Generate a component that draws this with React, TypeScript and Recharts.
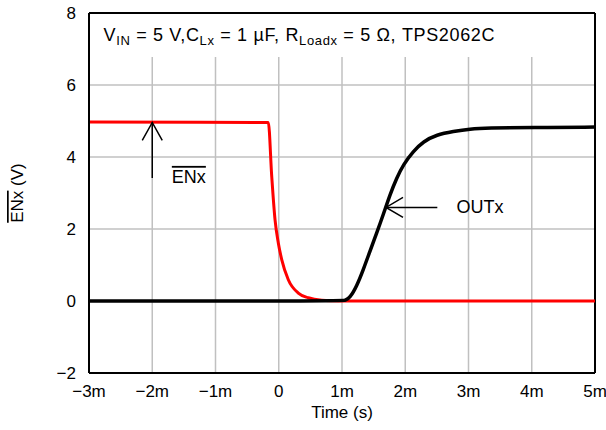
import React from 'react';
import {
  LineChart,
  Line,
  XAxis,
  YAxis,
  CartesianGrid,
  ReferenceArea,
  ReferenceLine,
  ReferenceDot,
} from 'recharts';

// time in ms, voltage in V
const enxTime = [-3, -0.165, -0.111, -0.059, -0.007, 0.047, 0.151, 0.309, 0.467, 0.679, 0.95, 5];
const enxVolts = [4.97, 4.96, 3.46, 2.26, 1.61, 1.15, 0.59, 0.22, 0.09, 0.02, 0, 0];

const outTime = [
  -3, 1.0, 1.047, 1.126, 1.232, 1.337, 1.443, 1.549, 1.653, 1.759, 1.865, 1.969, 2.127, 2.285,
  2.497, 2.76, 3.024, 3.288, 4, 5,
];
const outVolts = [
  0, 0, 0.01, 0.09, 0.41, 0.87, 1.39, 1.89, 2.4, 2.96, 3.42, 3.79, 4.16, 4.43, 4.62, 4.71, 4.78,
  4.81, 4.82, 4.83,
];

const xTicks = [-3, -2, -1, 0, 1, 2, 3, 4, 5];
const xTickLabels = ['−3m', '−2m', '−1m', '0', '1m', '2m', '3m', '4m', '5m'];
const yTicks = [-2, 0, 2, 4, 6, 8];
const yTickLabels = ['−2', '0', '2', '4', '6', '8'];

const enxData = enxTime.map((t, i) => ({ t, v: enxVolts[i] }));
const outData = outTime.map((t, i) => ({ t, v: outVolts[i] }));

const FONT = '"Liberation Sans", Arial, sans-serif';

const upArrow = (props: any) => (
  <path
    d={`M${props.cx - 10},${props.cy + 18} L${props.cx},${props.cy} L${props.cx + 10},${props.cy + 18}`}
    fill="none"
    stroke="#000"
    strokeWidth={1.5}
  />
);

const leftArrow = (props: any) => (
  <path
    d={`M${props.cx + 17},${props.cy - 10} L${props.cx},${props.cy} L${props.cx + 17},${props.cy + 10}`}
    fill="none"
    stroke="#000"
    strokeWidth={1.5}
  />
);

const textAt = (content: React.ReactNode, spacing = 0) => (props: any) => (
  <text
    x={props.cx}
    y={props.cy}
    fontSize={18}
    fontFamily={FONT}
    fill="#000"
    textAnchor="start"
    letterSpacing={spacing}
  >
    {content}
  </text>
);

const titleText = (
  <>
    <tspan>V</tspan>
    <tspan fontSize={13} dy={4}>IN</tspan>
    <tspan dy={-4}> = 5 V,C</tspan>
    <tspan fontSize={13} dy={4}>Lx</tspan>
    <tspan dy={-4}> = 1 µF, R</tspan>
    <tspan fontSize={13} dy={4}>Loadx</tspan>
    <tspan dy={-4}> = 5 Ω, TPS2062C</tspan>
  </>
);

export default function App() {
  return (
    <div style={{ position: 'absolute', left: 0, top: 0 }}>
      <LineChart
        width={606}
        height={430}
        margin={{ top: 13, right: 11, bottom: 0, left: 0 }}
        style={{ fontFamily: FONT }}
      >
        <CartesianGrid stroke="#c0c0c0" strokeWidth={1.5} />
        <XAxis
          type="number"
          dataKey="t"
          domain={[-3, 5]}
          ticks={xTicks}
          tickFormatter={(v: number) => xTickLabels[xTicks.indexOf(v)]}
          height={57}
          tickSize={0}
          tickMargin={12}
          axisLine={{ stroke: '#000', strokeWidth: 2 }}
          tick={{ fill: '#000', fontSize: 17, fontFamily: FONT }}
          allowDataOverflow
          label={{
            content: (p: any) => (
              <text
                x={p.viewBox.x + p.viewBox.width / 2}
                y={p.viewBox.y + 45}
                textAnchor="middle"
                fontSize={17}
                fontFamily={FONT}
                fill="#000"
              >
                Time (s)
              </text>
            ),
          }}
        />
        <YAxis
          type="number"
          domain={[-2, 8]}
          ticks={yTicks}
          tickFormatter={(v: number) => yTickLabels[yTicks.indexOf(v)]}
          width={89}
          tickSize={0}
          tickMargin={13}
          axisLine={{ stroke: '#000', strokeWidth: 2 }}
          tick={{ fill: '#000', fontSize: 17, fontFamily: FONT }}
          allowDataOverflow
          label={{
            content: (p: any) => {
              const cx = 23;
              const cy = p.viewBox.y + p.viewBox.height / 2;
              return (
                <text
                  x={cx}
                  y={cy}
                  transform={`rotate(-90 ${cx} ${cy})`}
                  textAnchor="middle"
                  fontSize={17}
                  fontFamily={FONT}
                  fill="#000"
                >
                  <tspan style={{ textDecoration: 'overline' }}>ENx</tspan>
                  <tspan> (V)</tspan>
                </text>
              );
            },
          }}
        />
        <ReferenceArea x1={-3} x2={5} y1={6.78} y2={8} fill="#fff" fillOpacity={1} stroke="none" />
        <ReferenceLine y={8} stroke="#000" strokeWidth={2} />
        <ReferenceLine x={5} stroke="#000" strokeWidth={2} />

        <Line
          data={enxData}
          dataKey="v"
          type="monotone"
          stroke="#ff0000"
          strokeWidth={3}
          dot={false}
          isAnimationActive={false}
        />
        <Line
          data={outData}
          dataKey="v"
          type="basis"
          stroke="#000"
          strokeWidth={3.5}
          dot={false}
          isAnimationActive={false}
        />

        <ReferenceLine
          segment={[
            { x: -2, y: 3.42 },
            { x: -2, y: 4.96 },
          ]}
          stroke="#000"
          strokeWidth={1.5}
        />
        <ReferenceDot x={-2} y={4.96} shape={upArrow} />
        <ReferenceLine
          segment={[
            { x: 1.696, y: 2.6 },
            { x: 2.507, y: 2.6 },
          ]}
          stroke="#000"
          strokeWidth={1.5}
        />
        <ReferenceDot x={1.696} y={2.6} shape={leftArrow} />
        <ReferenceDot
          x={-1.69}
          y={3.28}
          shape={textAt(<tspan style={{ textDecoration: 'overline' }}>ENx</tspan>)}
        />
        <ReferenceDot x={2.81} y={2.45} shape={textAt('OUTx')} />
        <ReferenceDot x={-2.77} y={7.23} shape={textAt(titleText, 0.65)} />
      </LineChart>
    </div>
  );
}
